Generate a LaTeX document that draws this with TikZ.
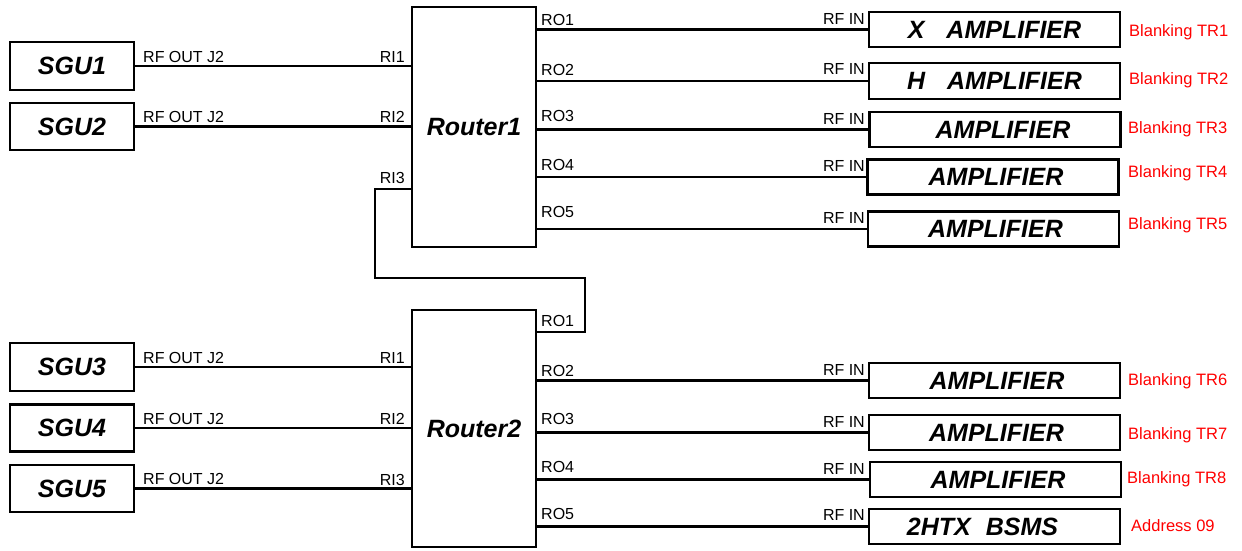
\documentclass[tikz,border=0pt]{standalone}
\usepackage{fontspec}
\setmainfont{Liberation Sans}
\begin{document}
\begin{tikzpicture}[x=1pt,y=-1pt,
  box/.style={draw, line width=2.9pt, inner sep=0pt, font=\fontsize{25}{29}\selectfont\bfseries\itshape},
  sgu/.style={box, minimum width=124pt},
  amp/.style={box, minimum width=251pt, minimum height=35pt},
  router/.style={draw, line width=2.3pt, minimum width=124pt, inner sep=0pt, font=\fontsize{25}{29}\selectfont\bfseries\itshape},
  wire/.style={line width=2.9pt},
  lbl/.style={inner sep=0pt, font=\fontsize{16}{19}\selectfont},
  tag/.style={inner sep=0pt, anchor=base west, text=red, font=\fontsize{16.5}{20}\selectfont}
]
\useasboundingbox (0,0) rectangle (1242,550);

% sources
\node[sgu, minimum height=48pt] (s1) at (72,66) {SGU1};
\node[sgu, minimum height=47pt] (s2) at (72,126.5) {SGU2};
\node[sgu, minimum height=48pt] (s3) at (72,367) {SGU3};
\node[sgu, minimum height=47pt] (s4) at (72,428) {SGU4};
\node[sgu, minimum height=47pt] (s5) at (72,488.5) {SGU5};

% routers
\node[router, minimum height=240pt] (r1) at (474,127) {Router1};
\node[router, minimum height=237pt] (r2) at (474,428.5) {Router2};

% amplifiers
\node[amp] (a1) at (994.5,29.5) {X\hspace{22pt}AMPLIFIER};
\node[amp, minimum height=36pt] (a2) at (994.5,81) {H\hspace{22pt}AMPLIFIER};
\node[amp] (a3) at (995,129.5) {\hspace*{16pt}AMPLIFIER};
\node[amp] (a4) at (993,177) {\hspace*{6pt}AMPLIFIER};
\node[amp] (a5) at (993.5,229) {\hspace*{4pt}AMPLIFIER};
\node[amp] (a6) at (994.5,380.5) {\hspace*{5pt}AMPLIFIER};
\node[amp] (a7) at (994.5,432.5) {\hspace*{4pt}AMPLIFIER};
\node[amp] (a8) at (995.5,479.5) {\hspace*{5pt}AMPLIFIER};
\node[amp] (a9) at (994.5,526.5) {2HTX\hspace{15pt}BSMS\hspace*{24pt}};

% inputs
\draw[wire] (s1.east) -- (s1.east -| r1.west);
\draw[wire] (s2.east) -- (s2.east -| r1.west);
\draw[wire] (s3.east) -- (s3.east -| r2.west);
\draw[wire] (s4.east) -- (s4.east -| r2.west);
\draw[wire] (s5.east) -- (s5.east -| r2.west);

% outputs
\foreach \a in {a1,a2,a3,a4,a5}{\draw[wire] (\a.west -| r1.east) -- (\a.west);}
\foreach \a in {a6,a7,a8,a9}{\draw[wire] (\a.west -| r2.east) -- (\a.west);}

% cascade Router2 RO1 -> Router1 RI3
\coordinate (ri3) at (412,189);
\coordinate (bendA) at (375,278);
\coordinate (bendB) at (585,332);
\draw[wire] (ri3 -| r1.west) -| (bendA) -| (bendB) -- (bendB -| r2.east);

% source labels
\foreach \y in {62,122,363,424,484}{\node[lbl, anchor=base west] at (143,\y) {RF OUT J2};}
\node[lbl, anchor=base east] at (405,62) {RI1};
\node[lbl, anchor=base east] at (405,122) {RI2};
\node[lbl, anchor=base east] at (405,183) {RI3};
\node[lbl, anchor=base east] at (405,363) {RI1};
\node[lbl, anchor=base east] at (405,424) {RI2};
\node[lbl, anchor=base east] at (405,485) {RI3};

% router outputs
\node[lbl, anchor=base west] at (541,25) {RO1};
\node[lbl, anchor=base west] at (541,75) {RO2};
\node[lbl, anchor=base west] at (541,121) {RO3};
\node[lbl, anchor=base west] at (541,170) {RO4};
\node[lbl, anchor=base west] at (541,217) {RO5};
\node[lbl, anchor=base west] at (541,326) {RO1};
\node[lbl, anchor=base west] at (541,376) {RO2};
\node[lbl, anchor=base west] at (541,424) {RO3};
\node[lbl, anchor=base west] at (541,472) {RO4};
\node[lbl, anchor=base west] at (541,519) {RO5};

% RF IN
\foreach \y in {24,74,124,171,223,375,427,474,520}{\node[lbl, anchor=base east] at (865,\y) {RF IN};}

% red tags
\node[tag] at (1129,36) {Blanking TR1};
\node[tag] at (1129,84) {Blanking TR2};
\node[tag] at (1128,133) {Blanking TR3};
\node[tag] at (1128,177) {Blanking TR4};
\node[tag] at (1128,229) {Blanking TR5};
\node[tag] at (1128,385) {Blanking TR6};
\node[tag] at (1128,439) {Blanking TR7};
\node[tag] at (1127,483) {Blanking TR8};
\node[tag] at (1131,531) {Address 09};
\end{tikzpicture}
\end{document}
